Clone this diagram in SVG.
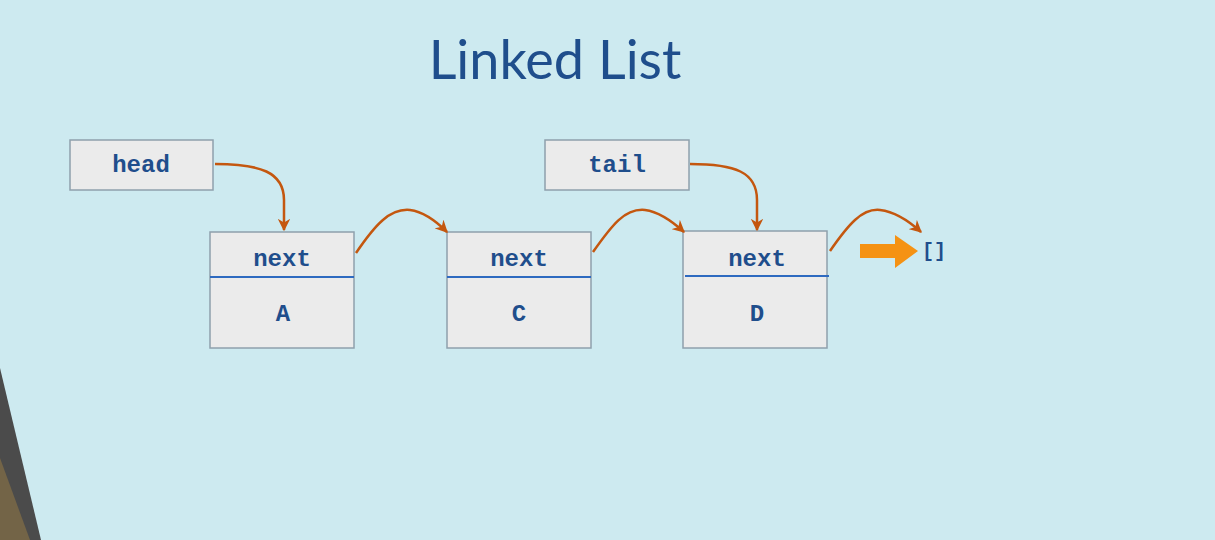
<svg xmlns="http://www.w3.org/2000/svg" width="1215" height="540" viewBox="0 0 1215 540">
<defs>
<style>
.box{fill:#ebebeb;stroke:#8fa0ac;stroke-width:1.5}
.div{stroke:#2e6ac0;stroke-width:2}
.t{font-family:"Liberation Mono",monospace;font-weight:bold;font-size:24px;fill:#1f4e8c;text-anchor:middle}
.c{fill:none;stroke:#c4570f;stroke-width:2.5}
</style>
<marker id="ah" viewBox="0 0 10 10" refX="9" refY="5" markerWidth="5" markerHeight="5" orient="auto" markerUnits="strokeWidth">
<path d="M0,0 L10,5 L0,10 L3,5 Z" fill="#c4570f"/>
</marker>
</defs>
<rect width="1215" height="540" fill="#cdeaf0"/>
<polygon points="0,368 41,540 0,540" fill="#4b4b4b"/>
<polygon points="0,458 30,540 0,540" fill="#736447"/>
<text x="555" y="79" font-family="Lato,'Open Sans',sans-serif" font-size="54" fill="#1f4e8c" text-anchor="middle">Linked List</text>
<g id="head"><rect class="box" x="70" y="140" width="143" height="50"/><text class="t" x="141" y="172">head</text></g>
<g id="tail"><rect class="box" x="545" y="140" width="144" height="50"/><text class="t" x="617" y="172">tail</text></g>
<g id="nodeA"><rect class="box" x="210" y="232" width="144" height="116"/><line class="div" x1="210" y1="277" x2="354" y2="277"/><text class="t" x="282" y="266">next</text><text class="t" x="283" y="321">A</text></g>
<g id="nodeC"><rect class="box" x="447" y="232" width="144" height="116"/><line class="div" x1="447" y1="277" x2="591" y2="277"/><text class="t" x="519" y="266">next</text><text class="t" x="519" y="321">C</text></g>
<g id="nodeD"><rect class="box" x="683" y="231" width="144" height="117"/><line class="div" x1="685" y1="276" x2="829" y2="276"/><text class="t" x="757" y="266">next</text><text class="t" x="757" y="321">D</text></g>
<g id="null"><polygon points="860,244 895,244 895,235 918,251 895,268 895,258 860,258" fill="#f59213"/><text x="934" y="257" font-family="'Liberation Mono',monospace" font-weight="bold" font-size="20" fill="#1f4e8c" text-anchor="middle">[]</text></g>
<g id="connectors">
<path class="c" d="M215,164 C260,164 284,172 284,200 L284,230" marker-end="url(#ah)"/>
<path class="c" d="M690,164 C735,164 757,172 757,200 L757,230" marker-end="url(#ah)"/>
<path class="c" d="M356,253 C375,225 390,208 410,210 C425,212 437,222 447,232" marker-end="url(#ah)"/>
<path class="c" d="M593,252 C612,225 625,208 645,210 C660,212 673,222 684,232" marker-end="url(#ah)"/>
<path class="c" d="M830,251 C848,225 862,208 880,210 C897,212 910,222 921,232" marker-end="url(#ah)"/>
</g>
</svg>
